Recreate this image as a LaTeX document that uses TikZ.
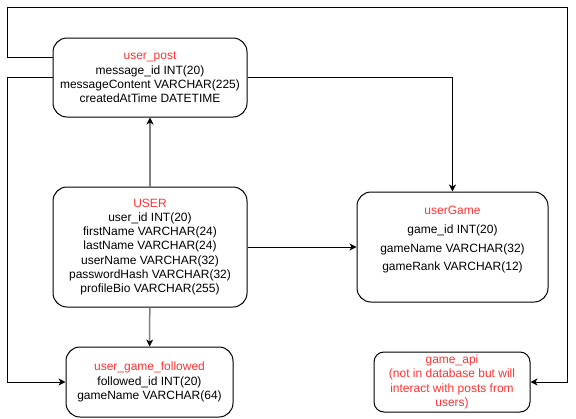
\documentclass[tikz,border=0pt]{standalone}
\usepackage{fontspec}
\setmainfont{Liberation Sans}
\usepackage{tikz}
\usetikzlibrary{arrows.meta,positioning,calc}
\definecolor{erTitle}{HTML}{FF3333}
\definecolor{erEdge}{HTML}{000000}
\definecolor{erSoft}{HTML}{808080}
\tikzset{
  ertbl/.style={draw=erEdge,line width=1pt,fill=white,rounded corners=14pt,
                align=center,inner sep=0pt,font=\fontsize{12}{14.3}\selectfont},
  ertxt/.style={align=center,inner sep=0pt,font=\fontsize{12}{14.3}\selectfont},
  erlink/.style={-{Stealth[length=7pt,width=7pt,inset=2pt]},draw=erEdge,line width=1pt},
  ersoft/.style={-{Stealth[length=7pt,width=7pt,inset=2pt,color=erEdge,line width=1pt]},
                 draw=erSoft,line width=1.5pt},
}

\begin{document}
\begin{tikzpicture}[x=1pt,y=-1pt]
  \useasboundingbox (0,0) rectangle (576,418);
  \node[ertbl,minimum width=194pt,minimum height=79pt] (post) at (150,77.5)
    {\textcolor{erTitle}{user\_post}\\message\_id INT(20)\\messageContent VARCHAR(225)\\createdAtTime DATETIME};
  \node[ertbl,minimum width=194pt,minimum height=120pt] (user) at (150,247)
    {\textcolor{erTitle}{USER}\\user\_id INT(20)\\firstName VARCHAR(24)\\lastName VARCHAR(24)\\userName VARCHAR(32)\\passwordHash VARCHAR(32)\\profileBio VARCHAR(255)};
  \node[ertbl,minimum width=167pt,minimum height=70pt] (follow) at (149.5,382)
    {\textcolor{erTitle}{user\_game\_followed}\\followed\_id INT(20)\\gameName VARCHAR(64)};
  \node[ertbl,minimum width=191pt,minimum height=110pt] (game) at (452.5,247) {};
  \node[ertxt] (gametxt) at ([yshift=7pt]game.center)
    {\textcolor{erTitle}{userGame}\\[4.4pt]game\_id INT(20)\\[4.4pt]gameName VARCHAR(32)\\[4.4pt]gameRank VARCHAR(12)};
  \node[ertbl,rounded corners=10pt,minimum width=156pt,minimum height=60pt,text=erTitle] (api) at (452,382)
    {game\_api\\(not in database but will\\interact with posts from\\users)};

  \coordinate (nw) at (7,7);
  \coordinate (ne) at (567,7);

  \draw[ersoft] (user) -- (post);
  \draw[ersoft] (user) -- (follow);
  \draw[erlink] (user.east) -- (game.west);
  \draw[erlink] (post.east) -| (game.north);
  \draw[erlink] (post.west) -- (post.west -| nw) |- (follow.west);
  \draw[erlink] ([yshift=20.5pt]post.west) -| (nw) -| (ne) |- (api.east);
\end{tikzpicture}
\end{document}
